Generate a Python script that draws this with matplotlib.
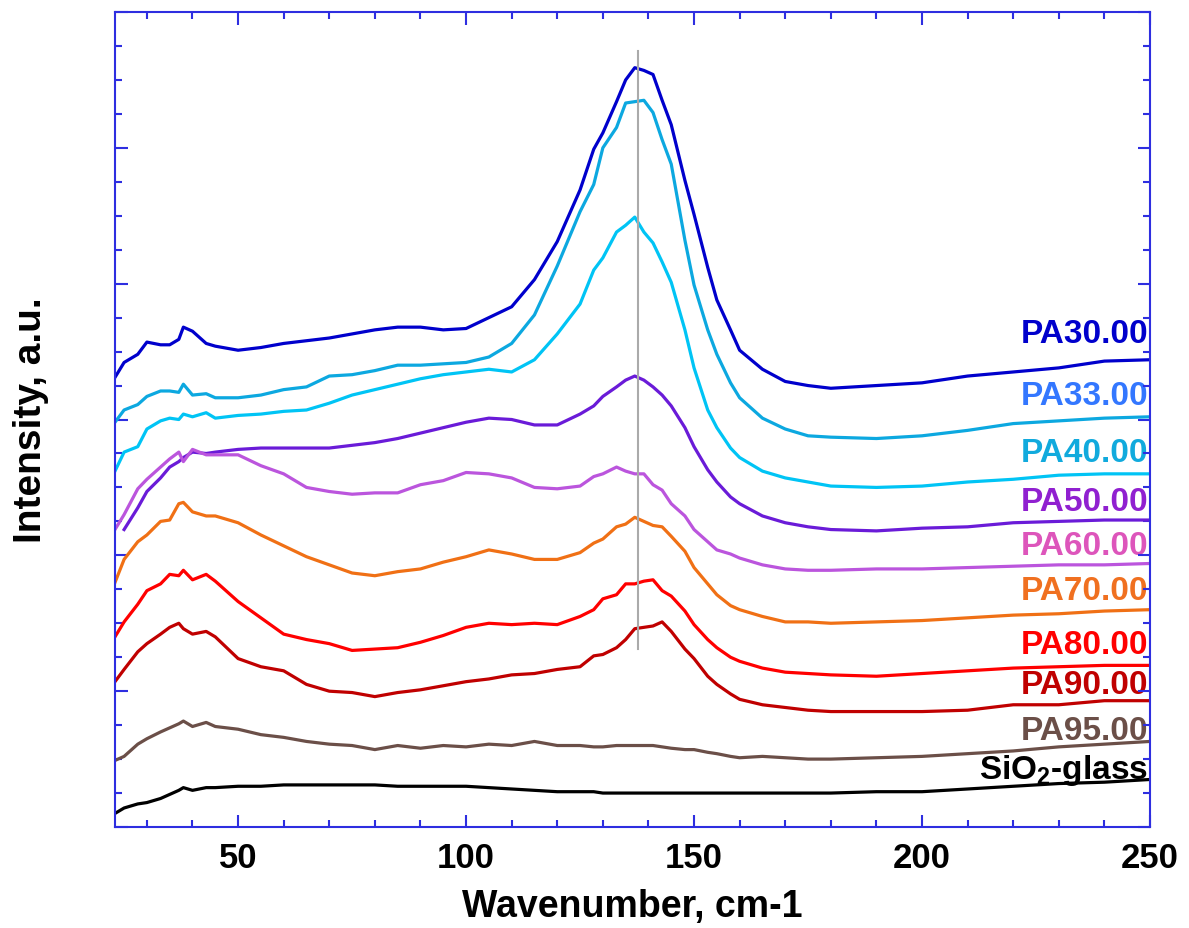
import numpy as np
import matplotlib
matplotlib.use('Agg')
import matplotlib.pyplot as plt
from matplotlib.ticker import MultipleLocator, NullFormatter

plt.rcParams['font.family'] = ['Liberation Sans', 'DejaVu Sans']
plt.rcParams['font.weight'] = 'bold'
plt.rcParams['mathtext.fontset'] = 'custom'
plt.rcParams['mathtext.rm'] = 'Liberation Sans:bold'
plt.rcParams['mathtext.bf'] = 'Liberation Sans:bold'
plt.rcParams['mathtext.it'] = 'Liberation Sans:bold'

# wavenumber grid (cm-1) where the curves were read
wavenumber = [23, 25, 28, 30, 33, 35, 37, 38, 40, 43, 45, 50, 55, 60, 65, 70, 75, 80,
              85, 90, 95, 100, 105, 110, 115, 120, 125, 128, 130, 133, 135, 137, 139,
              141, 143, 145, 148, 150, 153, 155, 158, 160, 165, 170, 175, 180, 190,
              200, 210, 220, 230, 240, 250]

pa30 = [3.31, 3.42, 3.48, 3.57, 3.55, 3.55, 3.59, 3.68, 3.65, 3.56, 3.54, 3.51, 3.53, 3.56,
        3.58, 3.60, 3.63, 3.66, 3.68, 3.68, 3.66, 3.67, 3.75, 3.83, 4.03, 4.31, 4.69, 4.99,
        5.11, 5.34, 5.50, 5.59, 5.57, 5.54, 5.35, 5.17, 4.76, 4.51, 4.12, 3.88, 3.66, 3.51,
        3.37, 3.28, 3.25, 3.23, 3.25, 3.27, 3.32, 3.35, 3.38, 3.43, 3.44]
pa33 = [2.98, 3.07, 3.11, 3.17, 3.21, 3.21, 3.20, 3.26, 3.18, 3.19, 3.16, 3.16, 3.18, 3.22,
        3.24, 3.32, 3.33, 3.36, 3.40, 3.40, 3.41, 3.42, 3.46, 3.56, 3.77, 4.13, 4.53, 4.73,
        5.00, 5.15, 5.33, 5.34, 5.35, 5.26, 5.06, 4.88, 4.32, 3.99, 3.66, 3.48, 3.27, 3.16,
        3.01, 2.93, 2.88, 2.87, 2.86, 2.88, 2.92, 2.97, 2.99, 3.01, 3.02]
pa40 = [2.62, 2.76, 2.80, 2.93, 2.99, 3.01, 3.00, 3.04, 3.02, 3.05, 3.01, 3.03, 3.04, 3.06,
        3.07, 3.12, 3.18, 3.22, 3.26, 3.30, 3.33, 3.35, 3.37, 3.35, 3.44, 3.63, 3.85, 4.10,
        4.19, 4.38, 4.43, 4.49, 4.38, 4.30, 4.16, 4.01, 3.66, 3.38, 3.07, 2.94, 2.79, 2.72,
        2.62, 2.57, 2.54, 2.51, 2.50, 2.51, 2.54, 2.56, 2.59, 2.60, 2.60]
pa50 = [np.nan, 2.19, 2.35, 2.47, 2.57, 2.65, 2.69, 2.72, 2.76, 2.75, 2.76, 2.78, 2.79, 2.79,
        2.79, 2.79, 2.81, 2.83, 2.86, 2.90, 2.94, 2.98, 3.01, 3.00, 2.96, 2.96, 3.04, 3.10,
        3.17, 3.24, 3.29, 3.32, 3.29, 3.24, 3.18, 3.10, 2.94, 2.80, 2.63, 2.54, 2.43, 2.38,
        2.29, 2.24, 2.21, 2.19, 2.18, 2.20, 2.21, 2.24, 2.25, 2.26, 2.26]
pa60 = [2.19, 2.30, 2.49, 2.56, 2.65, 2.71, 2.76, 2.69, 2.78, 2.74, 2.74, 2.74, 2.66, 2.60,
        2.50, 2.47, 2.45, 2.46, 2.46, 2.52, 2.55, 2.61, 2.60, 2.57, 2.50, 2.49, 2.51, 2.58,
        2.60, 2.65, 2.62, 2.60, 2.60, 2.52, 2.48, 2.38, 2.29, 2.19, 2.10, 2.04, 2.01, 1.98,
        1.93, 1.90, 1.89, 1.89, 1.90, 1.90, 1.91, 1.92, 1.93, 1.93, 1.94]
pa70 = [1.80, 1.97, 2.10, 2.15, 2.25, 2.26, 2.38, 2.39, 2.32, 2.29, 2.29, 2.24, 2.15, 2.07,
        1.99, 1.93, 1.87, 1.85, 1.88, 1.90, 1.95, 1.99, 2.04, 2.01, 1.97, 1.97, 2.02, 2.09,
        2.12, 2.21, 2.23, 2.28, 2.25, 2.22, 2.21, 2.14, 2.03, 1.91, 1.79, 1.71, 1.63, 1.60,
        1.55, 1.51, 1.51, 1.50, 1.51, 1.52, 1.54, 1.56, 1.57, 1.59, 1.60]
pa80 = [1.40, 1.51, 1.64, 1.74, 1.79, 1.86, 1.85, 1.89, 1.82, 1.86, 1.81, 1.66, 1.54, 1.42,
        1.38, 1.35, 1.30, 1.31, 1.32, 1.36, 1.41, 1.47, 1.50, 1.49, 1.50, 1.49, 1.55, 1.60,
        1.68, 1.71, 1.79, 1.79, 1.81, 1.82, 1.74, 1.70, 1.59, 1.49, 1.38, 1.32, 1.25, 1.22,
        1.17, 1.14, 1.13, 1.12, 1.11, 1.13, 1.15, 1.17, 1.18, 1.19, 1.19]
pa90 = [1.07, 1.16, 1.29, 1.35, 1.42, 1.47, 1.50, 1.46, 1.42, 1.44, 1.40, 1.24, 1.18, 1.15,
        1.05, 1.00, 0.99, 0.96, 0.99, 1.01, 1.04, 1.07, 1.09, 1.12, 1.13, 1.16, 1.18, 1.26,
        1.27, 1.32, 1.38, 1.46, 1.47, 1.48, 1.51, 1.44, 1.31, 1.24, 1.11, 1.05, 0.98, 0.94,
        0.90, 0.88, 0.86, 0.85, 0.85, 0.85, 0.86, 0.90, 0.90, 0.93, 0.93]
pa95 = [0.49, 0.52, 0.61, 0.65, 0.70, 0.73, 0.76, 0.78, 0.74, 0.77, 0.74, 0.72, 0.68, 0.66,
        0.63, 0.61, 0.60, 0.57, 0.60, 0.58, 0.60, 0.59, 0.61, 0.60, 0.63, 0.60, 0.60, 0.59,
        0.59, 0.60, 0.60, 0.60, 0.60, 0.60, 0.59, 0.58, 0.57, 0.57, 0.55, 0.54, 0.52, 0.51,
        0.52, 0.51, 0.50, 0.50, 0.51, 0.52, 0.54, 0.56, 0.59, 0.61, 0.63]
sio2 = [0.10, 0.14, 0.17, 0.18, 0.21, 0.24, 0.27, 0.29, 0.27, 0.29, 0.29, 0.30, 0.30, 0.31,
        0.31, 0.31, 0.31, 0.31, 0.30, 0.30, 0.30, 0.30, 0.29, 0.28, 0.27, 0.26, 0.26, 0.26,
        0.25, 0.25, 0.25, 0.25, 0.25, 0.25, 0.25, 0.25, 0.25, 0.25, 0.25, 0.25, 0.25, 0.25,
        0.25, 0.25, 0.25, 0.25, 0.26, 0.26, 0.28, 0.30, 0.32, 0.33, 0.35]

series = [pa30, pa33, pa40, pa50, pa60, pa70, pa80, pa90, pa95, sio2]
names = ['PA30.00', 'PA33.00', 'PA40.00', 'PA50.00', 'PA60.00', 'PA70.00',
         'PA80.00', 'PA90.00', 'PA95.00', r'SiO$_{\mathrm{2}}$-glass']
label_y = [3.63, 3.18, 2.76, 2.40, 2.07, 1.74, 1.34, 1.05, 0.71, 0.42]
line_colors = ['#0000cc', '#0ca8e0', '#00c4f5', '#6a1bd8', '#bb55dd', '#f07015',
               '#ff0000', '#c00000', '#6b4f48', '#000000']
text_colors = ['#0000cc', '#3377ff', '#11aadd', '#9020d0', '#dd55bb', '#f07020',
               '#ff0000', '#c00000', '#6b4f48', '#000000']

# peak marker
peak_x = 137.7
peak_span = [1.31, 5.71]

fig = plt.figure(figsize=(11.89, 9.29), dpi=100)
ax = fig.add_axes([0.0967, 0.1087, 0.8705, 0.8773])

for y, c in zip(series, line_colors):
    ax.plot(wavenumber, y, color=c, lw=2.3, zorder=2)

for name, ly, c in zip(names, label_y, text_colors):
    ax.text(249.6, ly, name, color=c, fontsize=24, fontweight='bold',
            ha='right', va='center', zorder=1)

ax.plot([peak_x, peak_x], peak_span, color='#aaaaaa', lw=1.5, zorder=5)

ax.set_xlim(23, 250)
ax.set_ylim(0, 6)
ax.xaxis.set_major_locator(MultipleLocator(50))
ax.xaxis.set_minor_locator(MultipleLocator(10))
ax.yaxis.set_major_locator(MultipleLocator(1))
ax.yaxis.set_minor_locator(MultipleLocator(0.25))
ax.yaxis.set_major_formatter(NullFormatter())

spine_col = '#2e2ee0'
for s in ax.spines.values():
    s.set_color(spine_col)
    s.set_linewidth(1.5)
ax.tick_params(which='both', direction='in', top=True, right=True, color=spine_col, width=1.5)
ax.tick_params(which='major', length=9)
ax.tick_params(which='minor', length=5)
ax.tick_params(axis='x', labelsize=25, pad=10)
for lab in ax.get_xticklabels():
    lab.set_fontweight('bold')

ax.set_xlabel('Wavenumber, cm-1', fontsize=27, fontweight='bold', labelpad=10)
ax.set_ylabel('Intensity, a.u.', fontsize=28, fontweight='bold', labelpad=44)

fig.savefig('out.png', dpi=100)
